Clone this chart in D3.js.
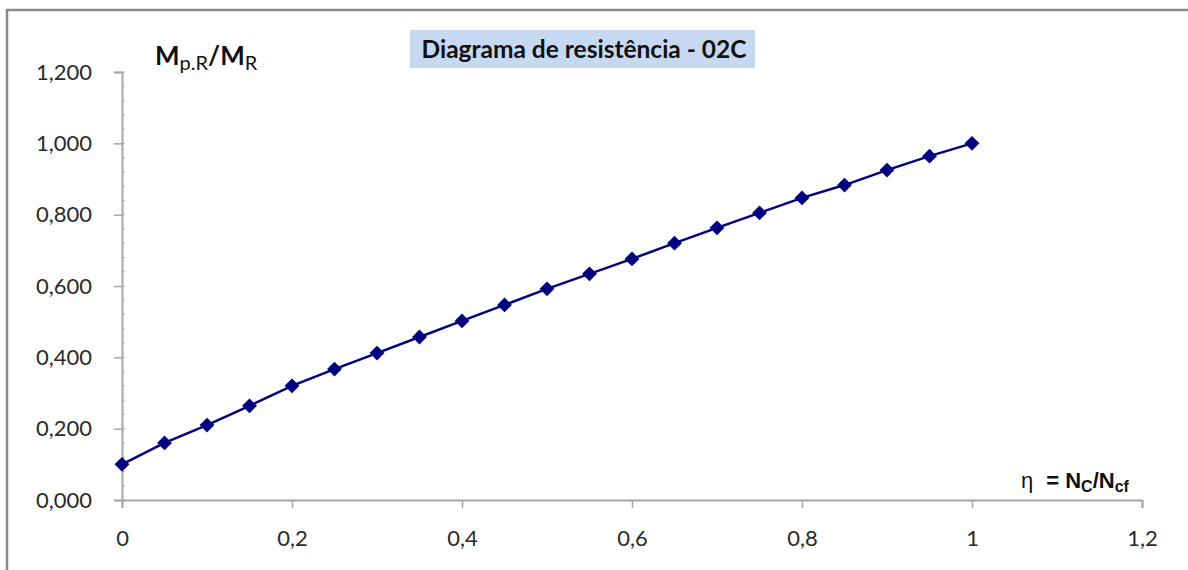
<!DOCTYPE html>
<html><head><meta charset="utf-8">
<script src="https://cdn.jsdelivr.net/npm/d3@7"></script>
<style>body{margin:0;background:#fff}svg{display:block}</style>
</head><body>
<script>
const xValues = [0,0.05,0.1,0.15,0.2,0.25,0.3,0.35,0.4,0.45,0.5,0.55,0.6,0.65,0.7,0.75,0.8,0.85,0.9,0.95,1.0];
const yValues = [0.100,0.160,0.210,0.264,0.320,0.367,0.412,0.457,0.502,0.547,0.592,0.634,0.676,0.720,0.763,0.805,0.847,0.883,0.925,0.964,1.000];
const xTicks = [0,0.2,0.4,0.6,0.8,1,1.2];
const xTickLabels = ["0","0,2","0,4","0,6","0,8","1","1,2"];
const yTicks = [0,0.2,0.4,0.6,0.8,1.0,1.2];
const yTickLabels = ["0,000","0,200","0,400","0,600","0,800","1,000","1,200"];
const titleText = "Diagrama de resistência - 02C";

const W = 1188, H = 570;
const svg = d3.select("body").append("svg").attr("width", W).attr("height", H);
svg.append("rect").attr("x",0).attr("y",0).attr("width",W).attr("height",H).attr("fill","#fff");
svg.append("path").attr("d","M7,"+H+" L7,10 L"+W+",10").attr("fill","none").attr("stroke","#8a8a8a").attr("stroke-width",2.5);

const x = d3.scaleLinear().domain([0,1.2]).range([122,1142]);
const y = d3.scaleLinear().domain([0,1.2]).range([500,72]);
const calibri = "Lato, 'Open Sans', sans-serif";

const minor = d3.range(0,1.2001,0.04);
svg.append("g").selectAll("line").data(minor).join("line")
  .attr("x1",x(0)).attr("x2",x(0)+3).attr("y1",d=>y(d)).attr("y2",d=>y(d))
  .attr("stroke","#b8b8b8").attr("stroke-width",1);

const yAxis = svg.append("g").attr("transform",`translate(${x(0)},0)`)
  .call(d3.axisLeft(y).tickValues(yTicks).tickFormat((d,i)=>yTickLabels[i]).tickSize(8).tickPadding(22));
const xAxis = svg.append("g").attr("transform",`translate(0,${y(0)})`)
  .call(d3.axisBottom(x).tickValues(xTicks).tickFormat((d,i)=>xTickLabels[i]).tickSize(8).tickPadding(22));
[yAxis,xAxis].forEach(a=>{
  a.select(".domain").attr("stroke","#a6a6a6").attr("stroke-width",2);
  a.selectAll(".tick line").attr("stroke","#a6a6a6").attr("stroke-width",1.5);
  a.selectAll("text").attr("font-family",calibri).attr("font-size",22).attr("fill","#2a2a2a");
});

svg.append("path").datum(xValues.map((v,i)=>[v,yValues[i]]))
  .attr("d", d3.line().x(d=>x(d[0])).y(d=>y(d[1])))
  .attr("fill","none").attr("stroke","#000080").attr("stroke-width",2.5);
svg.append("g").selectAll("path").data(xValues.map((v,i)=>[v,yValues[i]])).join("path")
  .attr("d", d3.symbol().type(d3.symbolDiamond2).size(140))
  .attr("transform", d=>`translate(${x(d[0])},${y(d[1])})`)
  .attr("fill","#000080");

svg.append("rect").attr("x",410).attr("y",30).attr("width",345).attr("height",38).attr("fill","#c6d9f1");
svg.append("text").attr("x",584).attr("y",58).attr("text-anchor","middle")
  .attr("font-family",calibri).attr("font-weight","bold").attr("font-size",24.5).attr("fill","#111").text(titleText);

const yl = svg.append("text").attr("x",155).attr("y",65).attr("font-family",calibri).attr("font-size",26).attr("fill","#111");
yl.append("tspan").attr("font-weight","bold").text("M");
yl.append("tspan").attr("font-size",20).attr("dy",5).text("p.R");
yl.append("tspan").attr("font-weight","bold").attr("dy",-5).text("/M");
yl.append("tspan").attr("font-size",20).attr("dy",5).text("R");

const xl = svg.append("text").attr("x",1021).attr("y",488).attr("font-family","'Liberation Sans', Arial, sans-serif").attr("font-size",22).attr("fill","#111");
xl.append("tspan").text("η");
xl.append("tspan").attr("font-weight","bold").attr("dx",13).text("= N");
xl.append("tspan").attr("font-weight","bold").attr("font-size",16).attr("dy",4).text("C");
xl.append("tspan").attr("font-weight","bold").attr("dy",-4).text("/N");
xl.append("tspan").attr("font-weight","bold").attr("font-size",16).attr("dy",4).text("cf");
</script>
</body></html>
